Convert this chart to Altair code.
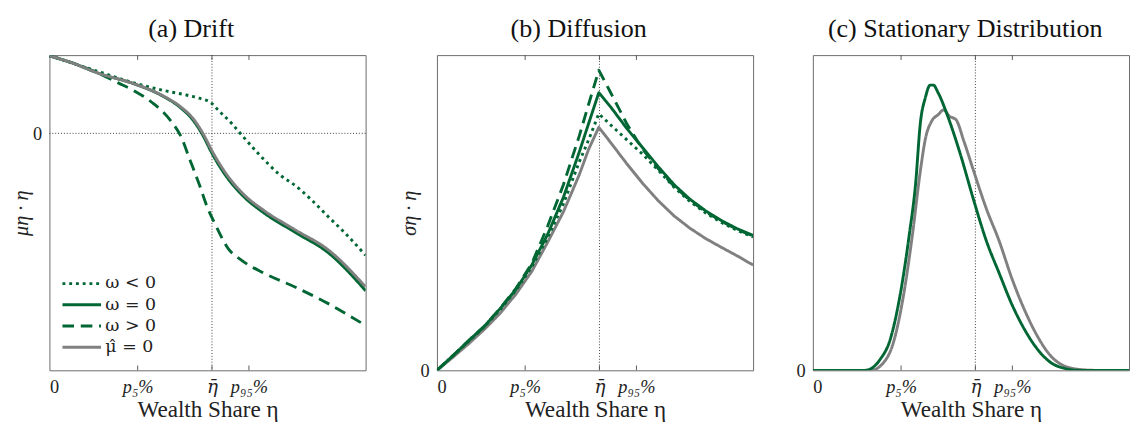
import altair as alt
import pandas as pd

GREEN = "#006633"
GRAY = "#808080"
FONT = "Liberation Serif"

SERIES = ["ω < 0", "ω = 0", "ω > 0", "μ̂ = 0"]
DASHES = [[3, 4], [1, 0], [12, 7], [1, 0]]
COLORS = [GREEN, GREEN, GREEN, GRAY]
WIDTHS = [3, 3, 3, 2]

TICK_VALUES = [0, 0.279, 0.514, 0.631]
TICK_LABELS = ["0", "p₅%", "η̄", "p₉₅%"]
ETA_BAR = 0.514

# ---- Panel (a) Drift ----
a_x_solid = [0, .066, .158, .270, .352, .413, .454, .484, .515, .556, .617, .678, .780, .882, 1.0]
a_y_solid = [0.992, 0.909, 0.765, 0.630, 0.490, 0.333, 0.169, -0.016, -0.263, -0.531, -0.819, -1.016, -1.272, -1.527, -2.012]
a_y_gray = [0.992, 0.909, 0.765, 0.630, 0.495, 0.345, 0.19, 0.01, -0.23, -0.50, -0.79, -0.985, -1.24, -1.49, -1.963]
a_x_dot = [0, .158, .270, .372, .433, .474, .510, .535, .576, .607, .657, .729, .780, .831, .882, .933, 1.0]
a_y_dot = [0.992, 0.786, 0.642, 0.539, 0.490, 0.449, 0.395, 0.292, 0.128, -0.016, -0.243, -0.531, -0.675, -0.860, -1.066, -1.267, -1.560]
a_x_dash = [0, .117, .219, .270, .331, .382, .418, .443, .474, .499, .525, .566, .607, .678, .780, .882, 1.0]
a_y_dash = [0.992, 0.835, 0.642, 0.539, 0.374, 0.169, -0.058, -0.325, -0.654, -0.942, -1.169, -1.477, -1.621, -1.786, -1.971, -2.177, -2.457]

# ---- Panel (b) Diffusion ----
b_x = [0, .05, .10, .15, .20, .25, .30, .35, .40, .45, .48, .512, .55, .60, .65, .70, .75, .80, .85, .90, .95, 1.0]
b_y_solid = [0, .046, .094, .140, .196, .257, .334, .431, .549, .692, .784, .881, .835, .768, .707, .646, .589, .543, .506, .475, .449, .428]
b_y_dash = [0, .046, .094, .140, .196, .260, .339, .457, .589, .743, .845, .952, .880, .783, .702, .640, .584, .540, .503, .473, .447, .426]
b_y_dot = [0, .046, .092, .138, .193, .254, .329, .421, .528, .661, .732, .814, .778, .732, .686, .635, .581, .536, .499, .469, .444, .423]
b_y_gray = [0, .041, .084, .130, .181, .242, .314, .406, .503, .620, .702, .771, .722, .656, .594, .538, .490, .451, .418, .390, .363, .334]

# ---- Panel (c) Stationary Distribution ----
c_x_green = [0, .163, .183, .213, .244, .274, .305, .325, .340, .356, .371, .381, .396, .427, .467, .508, .549, .589, .630, .671, .711, .752, .793, .843, 1.0]
c_y_green = [0, 0, .005, .035, .096, .228, .431, .593, .785, .866, .905, .905, .881, .805, .684, .542, .410, .309, .208, .127, .066, .025, .007, 0, 0]
c_x_gray = [0, .183, .224, .254, .285, .315, .340, .356, .376, .396, .414, .432, .452, .478, .508, .549, .589, .630, .671, .711, .752, .793, .843, .894, 1.0]
c_y_gray = [0, 0, .025, .086, .228, .431, .633, .735, .791, .811, .826, .806, .796, .726, .634, .512, .411, .290, .188, .107, .046, .015, .003, 0, 0]


def frame(series_list):
    rows = []
    for name, xs, ys in series_list:
        for i, (xv, yv) in enumerate(zip(xs, ys)):
            rows.append({"series": name, "x": xv, "y": yv, "i": i})
    return pd.DataFrame(rows)


W, H = 328, 327
label_expr = " : ".join(
    f"datum.value == {v} ? '{l}'" for v, l in zip(TICK_VALUES, TICK_LABELS)
) + " : ''"

ticks_df = pd.DataFrame({"t": TICK_VALUES[1:]})
vline_df = pd.DataFrame({"x": [ETA_BAR]})


def panel(df, ydom, ytitle, title, title_dx, interp, legend=False, hline=False):
    xsc = alt.Scale(domain=[0, 1], nice=False, zero=False)
    ysc = alt.Scale(domain=ydom, nice=False, zero=False)
    xaxis = alt.Axis(
        values=TICK_VALUES, labelExpr=label_expr, title="Wealth Share η",
        grid=False, ticks=False, domain=False, labelPadding=8,
        labelFontSize=19, labelColor="#222",
        labelFont={"expr": f"datum.value == {ETA_BAR} ? 'DejaVu Serif' : '{FONT}'"},
        labelFontStyle={"expr": "datum.value == 0 ? 'normal' : 'italic'"},
        titleFont=FONT, titleFontSize=24, titleFontWeight="normal", titleColor="#222",
        titlePadding=2,
    )
    yaxis = alt.Axis(
        values=[0], labelExpr="'0'", title=ytitle,
        grid=False, ticks=False, domain=False, labelPadding=8,
        labelFontSize=19, labelFont=FONT, labelColor="#222",
        titleFont=FONT, titleFontSize=21, titleFontWeight="normal", titleColor="#222",
        titleFontStyle="italic", titlePadding=1,
    )
    if legend:
        leg = alt.Legend(
            title=None, orient="none", legendX=12, legendY=226,
            symbolType="stroke", symbolSize=1600, clipHeight=22, rowPadding=0,
            labelFont="DejaVu Serif", labelFontSize=18, labelColor="#222", labelOffset=3,
            symbolStrokeWidth=3,
        )
    else:
        leg = None
    enc_common = dict(
        color=alt.Color("series:N", scale=alt.Scale(domain=SERIES, range=COLORS), legend=leg),
        strokeDash=alt.StrokeDash("series:N", scale=alt.Scale(domain=SERIES, range=DASHES), legend=leg),
        strokeWidth=alt.StrokeWidth("series:N", scale=alt.Scale(domain=SERIES, range=WIDTHS), legend=leg),
    )
    lines = alt.Chart(df).mark_line(clip=True, strokeCap="butt", strokeJoin="round",
                                    interpolate=interp).encode(
        x=alt.X("x:Q", scale=xsc, axis=xaxis),
        y=alt.Y("y:Q", scale=ysc, axis=yaxis),
        detail="series:N",
        order="i:Q",
        **enc_common,
    )
    vline = alt.Chart(vline_df).mark_rule(color="#333", strokeWidth=1, strokeDash=[1, 2]).encode(
        x=alt.X("x:Q", scale=xsc), y=alt.value(0), y2=alt.value(H)
    )
    layers = [vline]
    if hline:
        hl = alt.Chart(pd.DataFrame({"y": [0]})).mark_rule(color="#333", strokeWidth=1, strokeDash=[1, 2]).encode(
            y=alt.Y("y:Q", scale=ysc), x=alt.value(0), x2=alt.value(W)
        )
        layers.append(hl)
    tb = alt.Chart(ticks_df).mark_rule(color="#555", strokeWidth=1).encode(
        x=alt.X("t:Q", scale=xsc), y=alt.value(H), y2=alt.value(H - 5)
    )
    tt = alt.Chart(ticks_df).mark_rule(color="#555", strokeWidth=1).encode(
        x=alt.X("t:Q", scale=xsc), y=alt.value(0), y2=alt.value(5)
    )
    layers += [tb, tt, lines]
    return alt.layer(*layers).properties(
        width=W, height=H,
        title=alt.TitleParams(title, font=FONT, fontSize=27, fontWeight="normal",
                              color="#111", offset=12, dx=title_dx),
    )


dfa = frame([
    ("ω < 0", a_x_dot, a_y_dot),
    ("ω = 0", a_x_solid, a_y_solid),
    ("ω > 0", a_x_dash, a_y_dash),
    ("μ̂ = 0", a_x_solid, a_y_gray),
])
dfb = frame([
    ("μ̂ = 0", b_x, b_y_gray),
    ("ω < 0", b_x, b_y_dot),
    ("ω = 0", b_x, b_y_solid),
    ("ω > 0", b_x, b_y_dash),
])
dfc = frame([
    ("μ̂ = 0", c_x_gray, c_y_gray),
    ("ω = 0", c_x_green, c_y_green),
])

pa = panel(dfa, [-3.03, 1.0], "μη · η", "(a) Drift", -17, "monotone", legend=True, hline=True)
pb = panel(dfb, [0, 1.0], "ση · η", "(b) Diffusion", -17, "linear")
pc = panel(dfc, [0, 1.0], "", "(c) Stationary Distribution", -6, "monotone")

res = dict(color="independent", strokeDash="independent", strokeWidth="independent")
ab = alt.hconcat(pa, pb, spacing=74, bounds="flush").resolve_scale(**res).resolve_legend(**res)
chart = alt.hconcat(ab, pc, spacing=43).resolve_scale(**res).resolve_legend(**res).configure_view(
    stroke="#666", strokeWidth=1
).properties(
    padding={"left": 3, "top": 0, "right": 0, "bottom": 0}, background="white"
)

chart.save("out.html", embed_options={"renderer": "svg", "actions": False})
